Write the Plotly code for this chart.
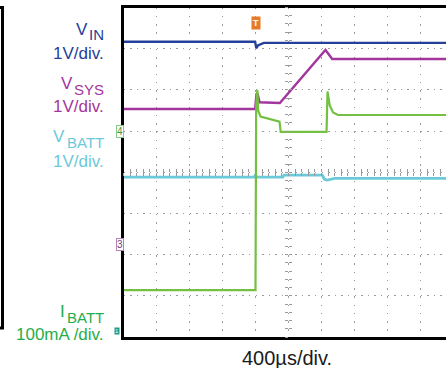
import plotly.graph_objects as go

W, H = 446, 368

# ---- data: time in µs relative to trigger, amplitude in screen divisions ----
t_vin = [-1600, -5, 10, 30, 100, 2309]
vin = [3.17, 3.17, 3.01, 3.08, 3.14, 3.14]

t_vsys = [-1600, -5, 12, 22, 50, 295, 848, 930, 2309]
vsys = [1.535, 1.535, 1.90, 1.92, 1.70, 1.68, 2.97, 2.75, 2.75]

t_vbatt = [-1600, -10, 0, 10, 330, 345, 810, 835, 870, 960, 2309]
vbatt = [-0.12, -0.12, -0.05, -0.12, -0.12, -0.07, -0.07, -0.17, -0.19, -0.15, -0.15]

t_ibatt = [-1600, 0, 8, 22, 32, 61, 291, 305, 861, 873, 900, 940, 1000, 2309]
ibatt = [-2.86, -2.86, 1.6, 2.0, 1.5, 1.35, 1.23, 0.98, 0.98, 1.96, 1.62, 1.45, 1.39, 1.39]

X_RANGE = [-1600, 2309]
Y_RANGE = [-4, 4]

C_VIN = "#24409a"
C_VSYS = "#a3369c"
C_VBATT = "#6cc9da"
C_IBATT = "#74c043"
C_IBATT_TXT = "#1fae4b"


def px(x):
    return x / W


def py(y):
    return 1 - y / H


XD = [px(123.5), 1.0]
YD = [py(337), py(7.5)]
yc = (YD[0] + YD[1]) / 2
xc = px(288)

fig = go.Figure()
fig.add_trace(go.Scatter(x=t_vbatt, y=vbatt, mode="lines", line=dict(color=C_VBATT, width=2.8)))
fig.add_trace(go.Scatter(x=t_vin, y=vin, mode="lines", line=dict(color=C_VIN, width=2.4)))
fig.add_trace(go.Scatter(x=t_vsys, y=vsys, mode="lines", line=dict(color=C_VSYS, width=2.4)))
fig.add_trace(go.Scatter(x=t_ibatt, y=ibatt, mode="lines", line=dict(color=C_IBATT, width=2.2)))

# dummy traces to bring up the centre-cross tick axes
for xa, ya in [("x2", "y"), ("x3", "y"), ("x", "y2"), ("x", "y3")]:
    fig.add_trace(go.Scatter(x=[None], y=[None], xaxis=xa, yaxis=ya, hoverinfo="skip"))

grid = "#9a9a9a"
ctr_x = dict(overlaying="x", anchor="free", position=yc, range=X_RANGE, ticklen=3,
             tickwidth=1, tickcolor=grid, dtick=80, tick0=-1600, showticklabels=False,
             showgrid=False, zeroline=False, showline=False)
ctr_y = dict(overlaying="y", anchor="free", position=xc, range=Y_RANGE, ticklen=3,
             tickwidth=1, tickcolor=grid, dtick=0.2, tick0=0, showticklabels=False,
             showgrid=False, zeroline=False, showline=False, side="left")

fig.update_layout(
    width=W, height=H, margin=dict(l=0, r=0, t=0, b=0),
    paper_bgcolor="white", plot_bgcolor="white", showlegend=False,
    xaxis=dict(domain=XD, range=X_RANGE, dtick=400, tick0=-1600, showgrid=True,
               gridcolor=grid, gridwidth=1, griddash="1.5px,6.75px", zeroline=False,
               showline=True, linecolor="black", linewidth=3, mirror=True,
               showticklabels=False, ticks=""),
    yaxis=dict(domain=YD, range=Y_RANGE, dtick=1, tick0=0, showgrid=True,
               gridcolor=grid, gridwidth=1, griddash="1.5px,5.1px", zeroline=False,
               showline=True, linecolor="black", linewidth=3, mirror=False,
               showticklabels=False, ticks=""),
    xaxis2=dict(ctr_x, ticks="outside"),
    xaxis3=dict(ctr_x, ticks="inside"),
    yaxis2=dict(ctr_y, ticks="outside"),
    yaxis3=dict(ctr_y, ticks="inside"),
)

FONT = "Liberation Sans, Arial, Helvetica, sans-serif"
RIGHT = 105
SUB_PX = 15
SUB_W = {"IN": 15, "SYS": 30, "BATT": 38}


def label(text, y, col, size=17, x=RIGHT):
    fig.add_annotation(x=px(x), y=py(y), xref="paper", yref="paper", text=text,
                       showarrow=False, xanchor="right", yanchor="middle", borderpad=0,
                       font=dict(family=FONT, size=size, color=col))


# (main letter, subscript, main centre y, subscript centre y, colour)
names = [
    ("V", "IN", 29.5, 34.2, C_VIN),
    ("V", "SYS", 83.5, 89.5, C_VSYS),
    ("V", "BATT", 137, 142.5, C_VBATT),
    ("I", "BATT", 311.5, 317, C_IBATT_TXT),
]
for main, s, ym, ys, col in names:
    label(s, ys, col, size=SUB_PX)
    label(main, ym, col, x=RIGHT - SUB_W[s] - 1)

scales = [("1V/div.", 53.5, C_VIN), ("1V/div.", 106.5, C_VSYS),
          ("1V/div.", 161, C_VBATT), ("100mA /div.", 334.5, C_IBATT_TXT)]
for txt, y, col in scales:
    label(txt, y, col)

fig.add_annotation(x=px(286.5), y=py(358), xref="paper", yref="paper", text="400µs/div.",
                   showarrow=False, xanchor="center", yanchor="middle",
                   font=dict(family=FONT, size=20, color="#1a1a1a"))

# scope markers
fig.add_annotation(x=0, y=py(16), xref="x", yref="paper", text="<b>T</b>", showarrow=False,
                   font=dict(family=FONT, size=9, color="white"), bgcolor="#e67a28",
                   borderpad=1)
fig.add_annotation(x=px(116), y=py(131), xref="paper", yref="paper", text="4", showarrow=False,
                   font=dict(family=FONT, size=10, color="#3d9a3d"), bgcolor="white",
                   bordercolor="#86c986", borderwidth=1, borderpad=0)
fig.add_annotation(x=px(116), y=py(251), xref="paper", yref="paper", text="3", showarrow=False,
                   font=dict(family=FONT, size=10, color="#7a3a7a"), bgcolor="white",
                   bordercolor="#b583b5", borderwidth=1, borderpad=0)
fig.add_annotation(x=px(114), y=py(334.5), xref="paper", yref="paper", text="1", showarrow=False,
                   font=dict(family=FONT, size=6, color="white"), bgcolor="#23998a",
                   borderpad=0)

# edge of the neighbouring (cropped) scope panel
fig.add_shape(type="rect", xref="paper", yref="paper", x0=-0.05, x1=px(2.5),
              y0=py(328), y1=py(7.5), line=dict(color="black", width=3))

fig.write_html("out.html", post_script="document.body.style.margin='0';",
               config={"displayModeBar": False})
